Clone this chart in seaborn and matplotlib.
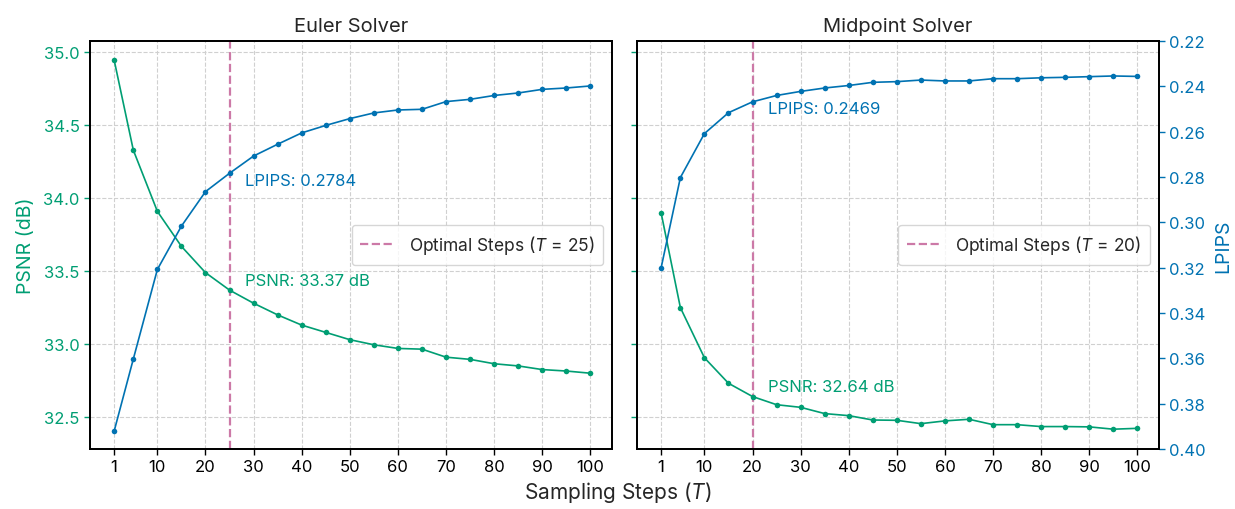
import matplotlib
matplotlib.use("Agg")
import matplotlib.pyplot as plt
import seaborn as sns
import numpy as np

# ---- data ----
steps = [1, 5, 10, 15, 20, 25, 30, 35, 40, 45, 50, 55, 60, 65, 70, 75, 80, 85, 90, 95, 100]
euler_psnr = [34.95, 34.33, 33.91, 33.67, 33.49, 33.37, 33.28, 33.20, 33.13, 33.08, 33.03,
              32.995, 32.97, 32.965, 32.91, 32.895, 32.865, 32.85, 32.825, 32.815, 32.80]
euler_lpips = [0.3922, 0.3603, 0.3208, 0.3017, 0.2865, 0.2784, 0.2708, 0.2656, 0.2606, 0.2573,
               0.2543, 0.2518, 0.2505, 0.2502, 0.2468, 0.2458, 0.2441, 0.2430, 0.2414, 0.2408, 0.2399]
mid_psnr = [33.90, 33.25, 32.906, 32.731, 32.64, 32.584, 32.566, 32.523, 32.509, 32.479, 32.477,
            32.454, 32.473, 32.484, 32.447, 32.447, 32.434, 32.434, 32.432, 32.416, 32.422]
mid_lpips = [0.3201, 0.2803, 0.2609, 0.2517, 0.2469, 0.2441, 0.2423, 0.2408, 0.2397, 0.2383,
             0.2380, 0.2373, 0.2377, 0.2377, 0.2367, 0.2367, 0.2363, 0.2361, 0.2358, 0.2355, 0.2357]
titles = ["Euler Solver", "Midpoint Solver"]
optimal = [25, 20]
xticks = [1, 10, 20, 30, 40, 50, 60, 70, 80, 90, 100]
psnr_ticks = [32.5, 33.0, 33.5, 34.0, 34.5, 35.0]
lpips_ticks = [0.22, 0.24, 0.26, 0.28, 0.30, 0.32, 0.34, 0.36, 0.38, 0.40]

GREEN = "#009E73"
BLUE = "#0072B2"
PINK = "#CC79A7"

sns.set_theme(style="ticks")
plt.rcParams["font.family"] = ["Inter", "DejaVu Sans"]
plt.rcParams["mathtext.fontset"] = "custom"
plt.rcParams["mathtext.rm"] = "Inter"
plt.rcParams["mathtext.it"] = "Inter:italic"
plt.rcParams["mathtext.bf"] = "Inter:bold"

TICK_FS = 12
ANN_FS = 12
LEG_FS = 12.5

fig, axes = plt.subplots(1, 2, figsize=(12.35, 5.1), dpi=100, sharey=True)
fig.subplots_adjust(left=0.0729, right=0.9385, top=0.918, bottom=0.1176, wspace=0.048)

psnr_all = [euler_psnr, mid_psnr]
lpips_all = [euler_lpips, mid_lpips]
twins = []
for i, ax in enumerate(axes):
    ps = psnr_all[i]
    lp = lpips_all[i]
    sns.lineplot(x=steps, y=ps, ax=ax, color=GREEN, marker="o", markersize=4,
                 markeredgewidth=0, linewidth=1.2, zorder=3)
    ax.axvline(optimal[i], color=PINK, linestyle="--", linewidth=1.6,
               label=f"Optimal Steps ($T$ = {optimal[i]})", zorder=2)
    ax.set_xlim(-4, 104.5)
    ax.set_ylim(32.28, 35.08)
    ax.set_xticks(xticks)
    ax.set_yticks(psnr_ticks)
    ax.grid(True, linestyle="--", color="#d0d0d0", linewidth=0.8)
    ax.set_axisbelow(True)
    ax.set_title(titles[i], fontsize=14.5, pad=7)
    ax.tick_params(axis="x", labelsize=TICK_FS, length=4, width=1, colors="black")
    ax.tick_params(axis="y", labelsize=TICK_FS, length=4, width=1, colors=GREEN)
    for sp in ax.spines.values():
        sp.set_color("black")
        sp.set_linewidth(1.3)

    tw = ax.twinx()
    twins.append(tw)
    sns.lineplot(x=steps, y=lp, ax=tw, color=BLUE, marker="o", markersize=4,
                 markeredgewidth=0, linewidth=1.2, zorder=3)
    tw.set_ylim(0.40, 0.22)
    tw.set_yticks(lpips_ticks)
    tw.set_yticklabels([f"{v:.2f}" for v in lpips_ticks])
    tw.grid(False)
    for sp in tw.spines.values():
        sp.set_color("black")
        sp.set_linewidth(1.3)
    tw.set_xlim(-4, 104.5)

    t_idx = steps.index(optimal[i])
    tw.annotate(f"LPIPS: {lp[t_idx]:.4f}", xy=(optimal[i], lp[t_idx]),
                xytext=(11, -5), textcoords="offset points", color=BLUE,
                fontsize=ANN_FS, ha="left", va="center")
    ax.annotate(f"PSNR: {ps[t_idx]:.2f} dB", xy=(optimal[i], ps[t_idx]),
                xytext=(11, 7), textcoords="offset points", color=GREEN,
                fontsize=ANN_FS, ha="left", va="center")

    leg = ax.legend(loc="center right", fontsize=LEG_FS, frameon=True, fancybox=True,
                    framealpha=0.8, edgecolor="#cccccc", borderpad=0.5)
    leg.set_zorder(5)

axes[0].set_ylabel("PSNR (dB)", color=GREEN, fontsize=14, labelpad=6)
axes[1].tick_params(axis="y", labelleft=False)
twins[0].tick_params(axis="y", right=False, labelright=False)
twins[1].tick_params(axis="y", labelsize=TICK_FS, length=4, width=1, colors=BLUE)
twins[1].set_ylabel("LPIPS", color=BLUE, fontsize=14, labelpad=6)

fig.supxlabel("Sampling Steps ($T$)", fontsize=15, y=0.022, va="baseline")

fig.savefig("out.png", dpi=100)
